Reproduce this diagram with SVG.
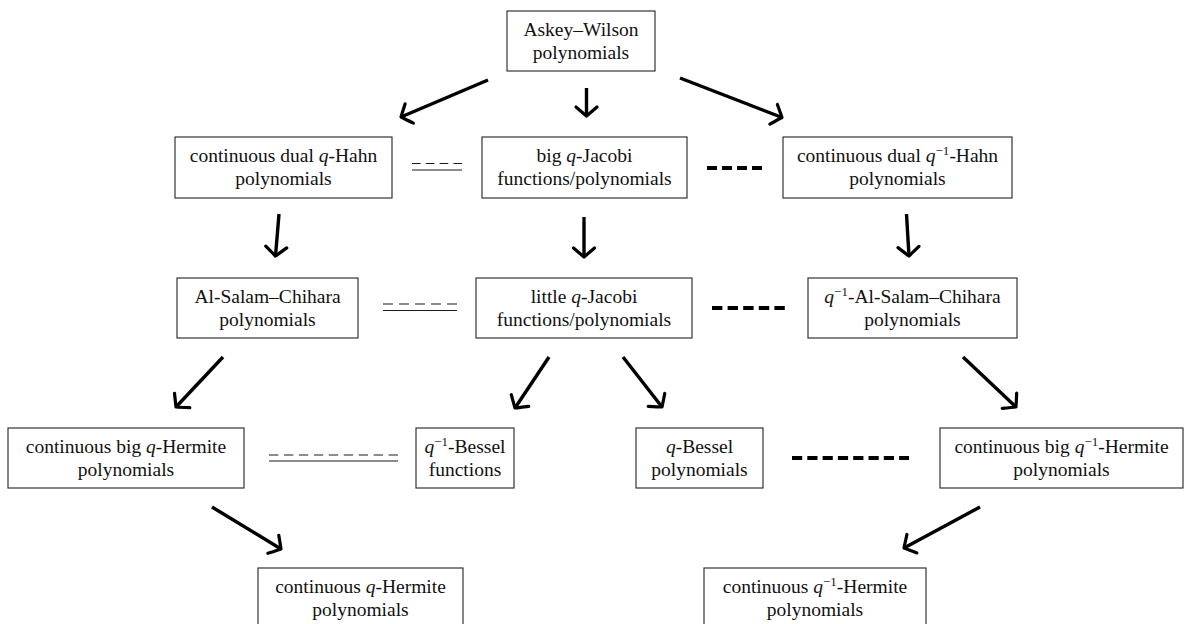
<svg xmlns="http://www.w3.org/2000/svg" width="1184" height="624" viewBox="0 0 1184 624">
<style>
.box{fill:#fff;stroke:#222;stroke-width:1.1}
.t{font-family:"Liberation Serif","Times New Roman",serif;font-size:19.5px;fill:#111;text-anchor:middle}
.i{font-style:italic}
.arr{stroke:#000;stroke-width:3.4;fill:none}
.thin{stroke:#1a1a1a;stroke-width:1.2;fill:none}
.thick{stroke:#000;stroke-width:4;fill:none}
</style>
<defs>
<marker id="ah" markerUnits="userSpaceOnUse" viewBox="-14 -14 18 28" markerWidth="18" markerHeight="28" refX="0" refY="0" orient="auto" overflow="visible">
<path d="M -9,-10.5 Q -2.5,-3 0,0 Q -2.5,3 -9,10.5" fill="none" stroke="#000" stroke-width="3.2" stroke-linecap="round" stroke-linejoin="round"/>
</marker>
</defs>
<rect width="1184" height="624" fill="#fff"/>
<g id="connectors">
<line class="arr" marker-end="url(#ah)" x1="488" y1="80" x2="401" y2="117"/>
<line class="arr" marker-end="url(#ah)" x1="586.5" y1="88" x2="586.5" y2="116"/>
<line class="arr" marker-end="url(#ah)" x1="680" y1="78" x2="782" y2="117.5"/>
<line class="arr" marker-end="url(#ah)" x1="279" y1="214" x2="275.5" y2="256"/>
<line class="arr" marker-end="url(#ah)" x1="584" y1="217" x2="584" y2="257"/>
<line class="arr" marker-end="url(#ah)" x1="906.5" y1="214" x2="909" y2="256"/>
<line class="arr" marker-end="url(#ah)" x1="223" y1="357" x2="176" y2="407"/>
<line class="arr" marker-end="url(#ah)" x1="549" y1="357" x2="515" y2="408"/>
<line class="arr" marker-end="url(#ah)" x1="623" y1="357" x2="662" y2="407"/>
<line class="arr" marker-end="url(#ah)" x1="963" y1="357" x2="1016" y2="407"/>
<line class="arr" marker-end="url(#ah)" x1="212" y1="507" x2="281" y2="549"/>
<line class="arr" marker-end="url(#ah)" x1="980" y1="507" x2="904" y2="548"/>
<line class="thin" x1="412" y1="163.5" x2="462" y2="163.5" stroke-dasharray="8.6 5.2"/>
<line class="thin" x1="412" y1="170" x2="462" y2="170"/>
<line class="thin" x1="383" y1="304" x2="457" y2="304" stroke-dasharray="10 6"/>
<line class="thin" x1="383" y1="310.5" x2="457" y2="310.5"/>
<line class="thin" x1="269" y1="455" x2="398" y2="455" stroke-dasharray="9.35 5.6"/>
<line class="thin" x1="269" y1="461" x2="398" y2="461"/>
<line class="thick" x1="707" y1="168" x2="762" y2="168" stroke-dasharray="10 5"/>
<line class="thick" x1="712" y1="308" x2="785" y2="308" stroke-dasharray="10.4 5.2"/>
<line class="thick" x1="792" y1="458" x2="909" y2="458" stroke-dasharray="10.2 5.1"/>
</g>
<g id="aw">
<rect class="box" x="507" y="11" width="148" height="60"/>
<text class="t" x="581" y="35.5">Askey–Wilson</text>
<text class="t" x="581" y="58.5">polynomials</text>
</g>
<g id="cdqh">
<rect class="box" x="175" y="137" width="217" height="61"/>
<text class="t" x="283.5" y="162"><tspan>continuous dual </tspan><tspan class="i">q</tspan><tspan>-Hahn</tspan></text>
<text class="t" x="283.5" y="185">polynomials</text>
</g>
<g id="bqj">
<rect class="box" x="482" y="137" width="205" height="61"/>
<text class="t" x="584.5" y="162"><tspan>big </tspan><tspan class="i">q</tspan><tspan>-Jacobi</tspan></text>
<text class="t" x="584.5" y="185">functions/polynomials</text>
</g>
<g id="cdqih">
<rect class="box" x="783" y="137" width="229" height="61"/>
<text class="t" x="897.5" y="162"><tspan>continuous dual </tspan><tspan class="i">q</tspan><tspan dy="-7" font-size="13">−1</tspan><tspan dy="7">-Hahn</tspan></text>
<text class="t" x="897.5" y="185">polynomials</text>
</g>
<g id="asc">
<rect class="box" x="177" y="278" width="181" height="60"/>
<text class="t" x="267.5" y="302.5">Al-Salam–Chihara</text>
<text class="t" x="267.5" y="325.5">polynomials</text>
</g>
<g id="lqj">
<rect class="box" x="476" y="278" width="216" height="60"/>
<text class="t" x="584" y="302.5"><tspan>little </tspan><tspan class="i">q</tspan><tspan>-Jacobi</tspan></text>
<text class="t" x="584" y="325.5">functions/polynomials</text>
</g>
<g id="qiasc">
<rect class="box" x="808" y="278" width="209" height="60"/>
<text class="t" x="912.5" y="302.5"><tspan class="i">q</tspan><tspan dy="-7" font-size="13">−1</tspan><tspan dy="7">-Al-Salam–Chihara</tspan></text>
<text class="t" x="912.5" y="325.5">polynomials</text>
</g>
<g id="cbqh">
<rect class="box" x="8" y="428" width="236" height="60"/>
<text class="t" x="126" y="452.5"><tspan>continuous big </tspan><tspan class="i">q</tspan><tspan>-Hermite</tspan></text>
<text class="t" x="126" y="475.5">polynomials</text>
</g>
<g id="qib">
<rect class="box" x="416" y="428" width="98" height="60"/>
<text class="t" x="465" y="452.5"><tspan class="i">q</tspan><tspan dy="-7" font-size="13">−1</tspan><tspan dy="7">-Bessel</tspan></text>
<text class="t" x="465" y="475.5">functions</text>
</g>
<g id="qb">
<rect class="box" x="636" y="428" width="127" height="60"/>
<text class="t" x="699.5" y="452.5"><tspan class="i">q</tspan><tspan>-Bessel</tspan></text>
<text class="t" x="699.5" y="475.5">polynomials</text>
</g>
<g id="cbqih">
<rect class="box" x="940" y="428" width="243" height="60"/>
<text class="t" x="1061.5" y="452.5"><tspan>continuous big </tspan><tspan class="i">q</tspan><tspan dy="-7" font-size="13">−1</tspan><tspan dy="7">-Hermite</tspan></text>
<text class="t" x="1061.5" y="475.5">polynomials</text>
</g>
<g id="cqh">
<rect class="box" x="258" y="568" width="205" height="62"/>
<text class="t" x="360.5" y="592.5"><tspan>continuous </tspan><tspan class="i">q</tspan><tspan>-Hermite</tspan></text>
<text class="t" x="360.5" y="615.5">polynomials</text>
</g>
<g id="cqih">
<rect class="box" x="704" y="568" width="222" height="62"/>
<text class="t" x="815" y="592.5"><tspan>continuous </tspan><tspan class="i">q</tspan><tspan dy="-7" font-size="13">−1</tspan><tspan dy="7">-Hermite</tspan></text>
<text class="t" x="815" y="615.5">polynomials</text>
</g>
</svg>
